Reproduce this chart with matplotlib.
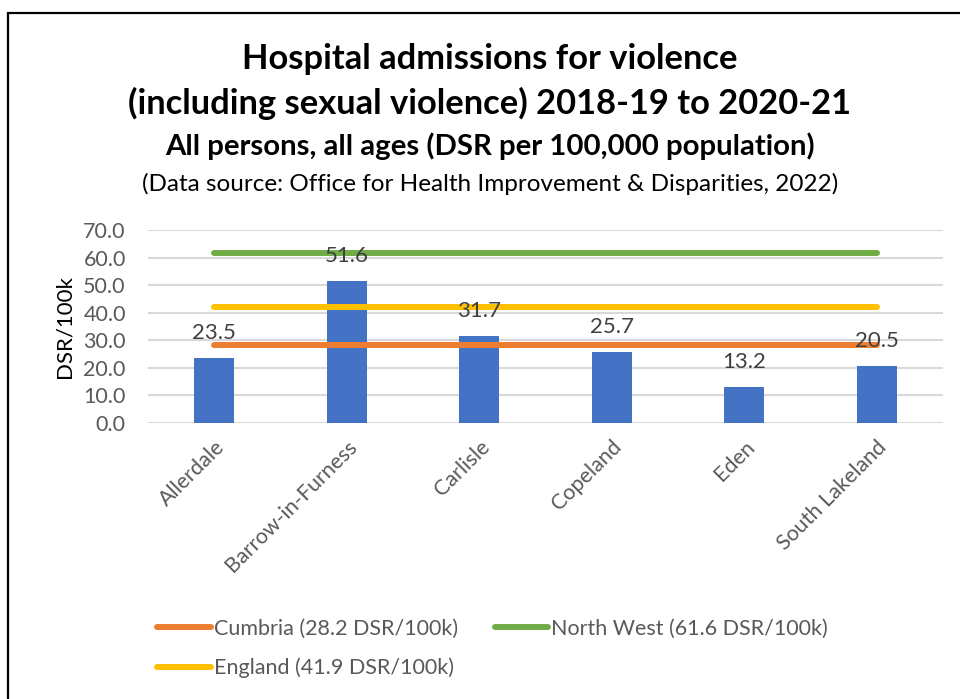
import matplotlib
matplotlib.use("Agg")
import matplotlib.pyplot as plt
import numpy as np
from matplotlib.patches import Rectangle

plt.rcParams['font.family'] = ['Lato', 'DejaVu Sans']

categories = ["Allerdale", "Barrow-in-Furness", "Carlisle", "Copeland", "Eden", "South Lakeland"]
values = [23.5, 51.6, 31.7, 25.7, 13.2, 20.5]
ref_names = ["Cumbria (28.2 DSR/100k)", "England (41.9 DSR/100k)", "North West (61.6 DSR/100k)"]
ref_values = [28.2, 41.9, 61.6]
ref_colors = ["#ED7D31", "#FFC000", "#70AD47"]
yticks = [0, 10, 20, 30, 40, 50, 60, 70]

fig = plt.figure(figsize=(9.6, 6.99), dpi=100)
fig.patch.set_facecolor("white")
fig.patches.append(Rectangle((8/960, -0.1), 1.1, 1 - 13/699 + 0.1, transform=fig.transFigure,
                             fill=False, edgecolor="black", linewidth=1.6))

ax = fig.add_axes([148/960, 1 - 423/699, 795/960, 193/699])
x = np.arange(len(categories))
ax.bar(x, values, width=0.3, color="#4472C4", zorder=2)
for name, v, c in zip(ref_names, ref_values, ref_colors):
    ax.plot(x, np.full(len(x), v), color=c, linewidth=4.3, solid_capstyle="round", label=name, zorder=3)

for xi, v in zip(x, values):
    ax.annotate(f"{v:.1f}", (xi, v), xytext=(0, 18), textcoords="offset points",
                ha="center", va="center", fontsize=16, color="#404040", zorder=5)

ax.set_xlim(-0.5, len(categories) - 0.5)
ax.set_ylim(0, 70)
ax.set_yticks(yticks)
ax.set_yticklabels([f"{t:.1f}" for t in yticks])
ax.grid(axis="y", color="#D9D9D9", linewidth=1.5, zorder=0)
ax.set_axisbelow(True)
for s in ax.spines.values():
    s.set_visible(False)
ax.tick_params(axis="both", length=0, labelsize=15.5, colors="#595959")
ax.tick_params(axis="y", pad=16)
ax.set_xticks(x)
ax.set_xticklabels(categories, rotation=45, ha="right", va="top", rotation_mode="anchor")
ax.tick_params(axis="x", pad=10)
ax.set_ylabel("DSR/100k", fontsize=16, color="black", labelpad=6)

fig.text(490/960, 1 - 59/699, "Hospital admissions for violence", ha="center", va="center",
         fontsize=24.8, fontweight="bold")
fig.text(490/960, 1 - 103/699, "(including sexual violence) 2018-19 to 2020-21", ha="center", va="center",
         fontsize=24.8, fontweight="bold")
fig.text(490/960, 1 - 146/699, "All persons, all ages (DSR per 100,000 population)", ha="center", va="center",
         fontsize=21.2, fontweight="bold")
fig.text(490/960, 1 - 184/699, "(Data source: Office for Health Improvement & Disparities, 2022)", ha="center",
         va="center", fontsize=17.5)

leg = fig.legend(loc="upper left", bbox_to_anchor=(138/960, 1 - 599/699), ncol=2, frameon=False,
                 fontsize=15.5, handlelength=2.5, handletextpad=0.12, columnspacing=1.7,
                 labelspacing=0.9, labelcolor="#595959")

fig.savefig("out.png", dpi=100)
